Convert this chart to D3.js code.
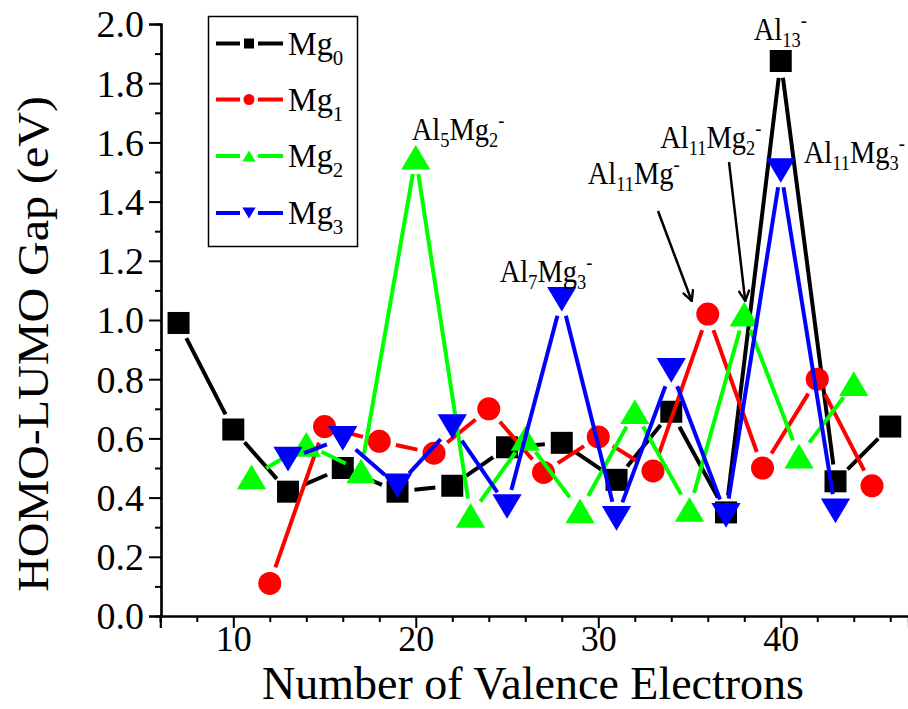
<!DOCTYPE html>
<html><head><meta charset="utf-8">
<script src="https://cdn.jsdelivr.net/npm/d3@7"></script>
<style>body{margin:0;background:#fff}svg{display:block}</style>
</head><body>
<svg id="c" width="908" height="709" font-family="Liberation Serif, Times New Roman, serif"></svg>
<script>
const x0=[7,10,13,16,19,22,25,28,31,34,37,40,43,46];
const y0=[0.99,0.63,0.42,0.50,0.42,0.44,0.57,0.585,0.46,0.69,0.35,1.875,0.455,0.64];
const x1=[12,15,18,21,24,27,30,33,36,39,42,45];
const y1=[0.11,0.64,0.59,0.55,0.70,0.485,0.605,0.49,1.02,0.50,0.80,0.44];
const x2=[11,14,17,20,23,26,29,32,35,38,41,44];
const y2=[0.47,0.58,0.49,1.55,0.34,0.60,0.355,0.69,0.36,1.02,0.54,0.785];
const x3=[13,16,19,22,25,28,31,34,37,40,43];
const y3=[0.53,0.60,0.44,0.64,0.37,1.07,0.33,0.83,0.34,1.505,0.355];
const seriesNames=["0","1","2","3"];
const colors=["#000000","#ff0000","#00ff00","#0000ff"];
const xTicks=[10,20,30,40];
const yTicks=[0,0.2,0.4,0.6,0.8,1.0,1.2,1.4,1.6,1.8,2.0];
const annotations=[
 {parts:[["Al",""],["13","sub"],["-","sup"]],x:40,y:1.875,dx:-27,dy:-21},
 {parts:[["Al",""],["5","sub"],["Mg",""],["2","sub"],["-","sup"]],x:20,y:1.55,dx:-4,dy:-17},
 {parts:[["Al",""],["7","sub"],["Mg",""],["3","sub"],["-","sup"]],x:28,y:1.07,dx:-62,dy:-17},
 {parts:[["Al",""],["11","sub"],["Mg",""],["-","sup"]],x:36,y:1.02,dx:-120,dy:-130},
 {parts:[["Al",""],["11","sub"],["Mg",""],["2","sub"],["-","sup"]],x:38,y:1.02,dx:-84,dy:-166},
 {parts:[["Al",""],["11","sub"],["Mg",""],["3","sub"],["-","sup"]],x:40,y:1.505,dx:23,dy:-8}
];
const arrows=[{fx:658,fy:211,x:36,y:1.02,ex:-16,ey:-13},{fx:729,fy:162,x:38,y:1.02,ex:1,ey:-13}];
const FF="Liberation Serif, Times New Roman, serif";

const svg=d3.select("#c");
const X=d3.scaleLinear().domain([6,47]).range([160.3,908.5]);
const Y=d3.scaleLinear().domain([0,2]).range([616,24]);

const xAxis=d3.axisBottom(X).tickValues(xTicks).tickSize(12).tickFormat(d3.format("d"));
const xMinor=d3.axisBottom(X).tickValues(d3.range(6,48,2).filter(v=>v%10!==0)).tickSize(6).tickFormat("");
const yAxis=d3.axisLeft(Y).tickValues(yTicks).tickSize(12).tickFormat(d3.format(".1f"));
const yMinor=d3.axisLeft(Y).tickValues(d3.range(0.1,2,0.2)).tickSize(6).tickFormat("");
function styleAxis(g){g.attr("font-family",FF);g.selectAll("path").attr("stroke","#000").attr("stroke-width",2.2);g.selectAll("line").attr("stroke","#000").attr("stroke-width",2);}
svg.append("g").attr("transform","translate(0,616)").call(xMinor).call(styleAxis);
svg.append("g").attr("transform","translate(0,616)").call(xAxis).call(styleAxis)
 .selectAll("text").attr("font-family",FF).attr("font-size",36).attr("fill","#000").attr("dy","0.71em").attr("y",9);
svg.append("g").attr("transform","translate(161,0)").call(yMinor).call(styleAxis);
svg.append("g").attr("transform","translate(161,0)").call(yAxis).call(styleAxis)
 .selectAll("text").attr("font-family",FF).attr("font-size",38).attr("fill","#000").attr("x",-17).attr("dy","0.34em");

svg.append("text").attr("font-family",FF).attr("transform","translate(533,699)").attr("text-anchor","middle")
 .attr("font-size",46).text("Number of Valence Electrons");
svg.append("text").attr("font-family",FF).attr("transform","translate(48,344) rotate(-90) scale(1,0.92)").attr("text-anchor","middle")
 .attr("font-size",48).text("HOMO-LUMO Gap (eV)");

function marker(g,i,size){
 const s=size;
 if(i===0) return g.append("rect").attr("x",-s/2).attr("y",-s/2).attr("width",s).attr("height",s).attr("fill",colors[i]);
 if(i===1) return g.append("circle").attr("r",s/2+0.5).attr("fill",colors[i]);
 const w=s*1.33,h=s*1.12;
 if(i===2) return g.append("path").attr("d",`M0,${-h/2}L${w/2},${h/2}L${-w/2},${h/2}Z`).attr("fill",colors[i]);
 return g.append("path").attr("d",`M0,${h/2}L${w/2},${-h/2}L${-w/2},${-h/2}Z`).attr("fill",colors[i]);
}
const data=[[x0,y0],[x1,y1],[x2,y2],[x3,y3]];
const gap=17;
data.forEach(([xs,ys],i)=>{
 const g=svg.append("g");
 const pts=xs.map((v,k)=>[X(v),Y(ys[k])]);
 for(let k=0;k<pts.length-1;k++){
  const [ax,ay]=pts[k],[bx,by]=pts[k+1];
  const L=Math.hypot(bx-ax,by-ay); if(L<=2*gap) continue;
  const ux=(bx-ax)/L,uy=(by-ay)/L;
  g.append("line").attr("x1",ax+ux*gap).attr("y1",ay+uy*gap).attr("x2",bx-ux*gap).attr("y2",by-uy*gap)
   .attr("stroke",colors[i]).attr("stroke-width",4);
 }
 pts.forEach(p=>{const m=g.append("g").attr("transform",`translate(${p[0]},${p[1]})`);marker(m,i,22);});
});

annotations.forEach(a=>{
 const t=svg.append("text").attr("font-family",FF)
  .attr("transform",`translate(${X(a.x)+a.dx},${Y(a.y)+a.dy}) scale(0.92,1)`).attr("font-size",31).attr("fill","#000");
 let shift=0;
 a.parts.forEach(([s,k])=>{
  const ts=t.append("tspan").text(s);
  if(k==="sub"){ts.attr("font-size",20).attr("dy",7-shift);shift=7;}
  else if(k==="sup"){ts.attr("font-size",20).attr("dy",-13-shift);shift=-13;}
  else {ts.attr("dy",-shift);shift=0;}
 });
});
const defs=svg.append("defs");
defs.append("marker").attr("id","ah").attr("viewBox","0 0 12 12").attr("refX",11).attr("refY",6)
 .attr("markerWidth",13).attr("markerHeight",13).attr("markerUnits","userSpaceOnUse").attr("orient","auto")
 .append("path").attr("d","M1,1L11,6L1,11").attr("fill","none").attr("stroke","#000").attr("stroke-width",2.2);
arrows.forEach(a=>{
 svg.append("line").attr("x1",a.fx).attr("y1",a.fy).attr("x2",X(a.x)+a.ex).attr("y2",Y(a.y)+a.ey)
  .attr("stroke","#000").attr("stroke-width",2.5).attr("marker-end","url(#ah)");
});

const lg=svg.append("g");
lg.append("rect").attr("x",208.5).attr("y",16.5).attr("width",149).attr("height",230).attr("fill","#fff").attr("stroke","#000").attr("stroke-width",1.5);
const rowY=[43.5,99.5,156,213];
seriesNames.forEach((n,i)=>{
 const yy=rowY[i];
 lg.append("line").attr("x1",216).attr("x2",240).attr("y1",yy).attr("y2",yy).attr("stroke",colors[i]).attr("stroke-width",4);
 lg.append("line").attr("x1",258).attr("x2",283).attr("y1",yy).attr("y2",yy).attr("stroke",colors[i]).attr("stroke-width",4);
 const m=lg.append("g").attr("transform",`translate(249,${yy})`);marker(m,i,10);
 const t=lg.append("text").attr("font-family",FF).attr("transform",`translate(288,${yy+11}) scale(0.95,1)`).attr("font-size",34).attr("fill","#000");
 t.append("tspan").text("Mg");
 t.append("tspan").text(n).attr("font-size",22).attr("dy",10);
});
</script>
</body></html>
